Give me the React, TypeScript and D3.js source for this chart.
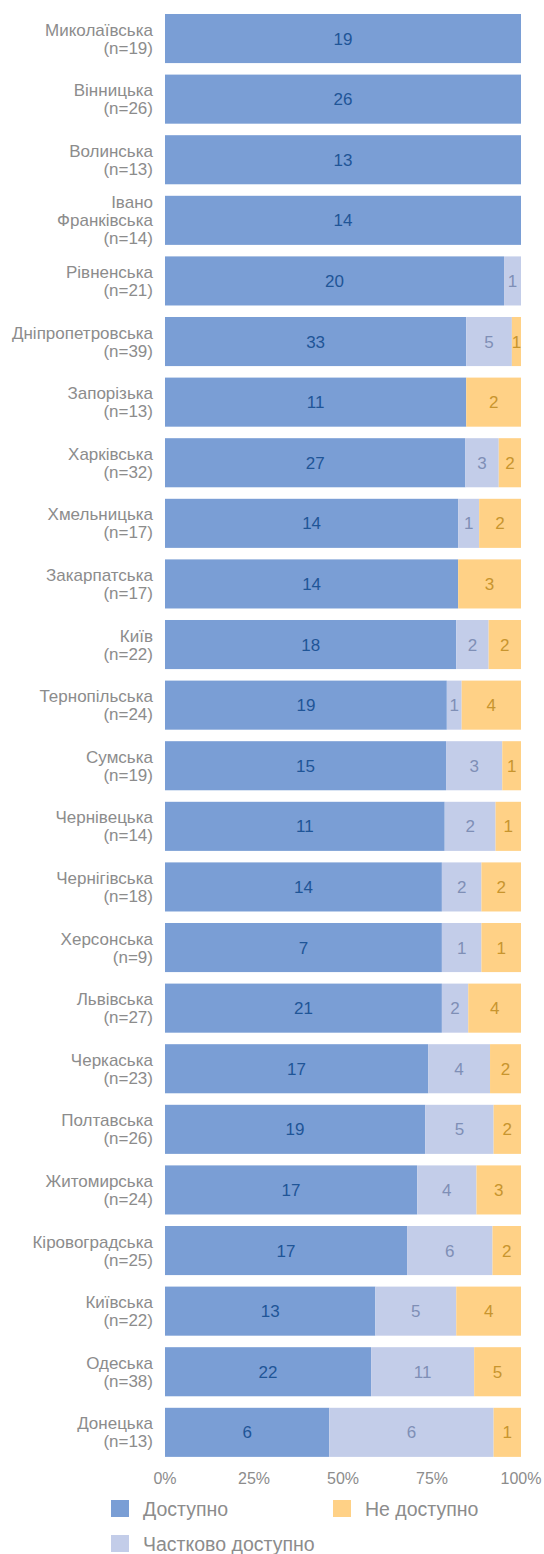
import React from "react";
import * as d3 from "d3";

const regions = [
  "Миколаївська", "Вінницька", "Волинська", "Івано Франківська", "Рівненська",
  "Дніпропетровська", "Запорізька", "Харківська", "Хмельницька", "Закарпатська",
  "Київ", "Тернопільська", "Сумська", "Чернівецька", "Чернігівська",
  "Херсонська", "Львівська", "Черкаська", "Полтавська", "Житомирська",
  "Кіровоградська", "Київська", "Одеська", "Донецька",
];
const available = [19, 26, 13, 14, 20, 33, 11, 27, 14, 14, 18, 19, 15, 11, 14, 7, 21, 17, 19, 17, 17, 13, 22, 6];
const partial = [0, 0, 0, 0, 1, 5, 0, 3, 1, 0, 2, 1, 3, 2, 2, 1, 2, 4, 5, 4, 6, 5, 11, 6];
const notAvailable = [0, 0, 0, 0, 0, 1, 2, 2, 2, 3, 2, 4, 1, 1, 2, 1, 4, 2, 2, 3, 2, 4, 5, 1];
const tickValues = [0, 0.25, 0.5, 0.75, 1];
const seriesNames = ["Доступно", "Частково доступно", "Не доступно"];

const fills = ["#7A9ED5", "#C3CDE9", "#FFD186"];
const labelColors = ["#1F5597", "#7F8FB6", "#C8952E"];

export default function App() {
  const W = 544, H = 1554;
  const x = d3.scaleLinear().domain([0, 1]).range([165, 521]);
  const y = d3.scaleBand<string>().domain(regions).range([8.24, 1462.64]).paddingInner(0.19).paddingOuter(0.095);
  const rows = regions.map((r, i) => {
    const vals = [available[i], partial[i], notAvailable[i]];
    const n = vals.reduce((a, b) => a + b, 0);
    return { r, vals, n };
  });
  const stack = d3.stack<number[]>().keys(["0", "1", "2"]).value((d, k) => d[+k] / d.reduce((a, b) => a + b, 0));
  const stacked = stack(rows.map((d) => d.vals));
  const font = "'Liberation Sans', Arial, sans-serif";
  const bw = y.bandwidth();

  return (
    <svg width={W} height={H} style={{ position: "absolute", left: 0, top: 0, fontFamily: font }}>
      {stacked.map((layer, si) => (
        <g key={si}>
          {layer.map((seg, i) => {
            const r = regions[i];
            const v = rows[i].vals[si];
            if (!v) return null;
            const x0 = x(seg[0]), x1 = x(seg[1]);
            return (
              <g key={i}>
                <rect x={x0} y={y(r)} width={x1 - x0} height={bw} fill={fills[si]} />
                <text x={(x0 + x1) / 2} y={(y(r) as number) + bw / 2} dy="0.36em" textAnchor="middle" fontSize={17} fill={labelColors[si]}>{v}</text>
              </g>
            );
          })}
        </g>
      ))}
      {rows.map((d) => {
        const lines = d.r === "Івано Франківська" ? ["Івано", "Франківська", `(n=${d.n})`] : [d.r, `(n=${d.n})`];
        const cy = (y(d.r) as number) + bw / 2;
        const lh = 18;
        const start = cy - ((lines.length - 1) * lh) / 2;
        return (
          <text key={d.r} x={153} textAnchor="end" fontSize={17} fill="#8C8C8C">
            {lines.map((l, j) => (
              <tspan key={j} x={153} y={start + j * lh} dy="0.36em">{l}</tspan>
            ))}
          </text>
        );
      })}
      {tickValues.map((t) => (
        <text key={t} x={x(t)} y={1478} dy="0.36em" textAnchor="middle" fontSize={16} fill="#8C8C8C">{d3.format(".0%")(t)}</text>
      ))}
      {[{ i: 0, lx: 111, ly: 1500 }, { i: 2, lx: 333, ly: 1500 }, { i: 1, lx: 111, ly: 1535 }].map(({ i, lx, ly }) => (
        <g key={i}>
          <rect x={lx} y={ly} width={18} height={17} fill={fills[i]} />
          <text x={lx + 32} y={ly + 8.5} dy="0.36em" fontSize={19.5} fill="#8C8C8C">{seriesNames[i]}</text>
        </g>
      ))}
    </svg>
  );
}
